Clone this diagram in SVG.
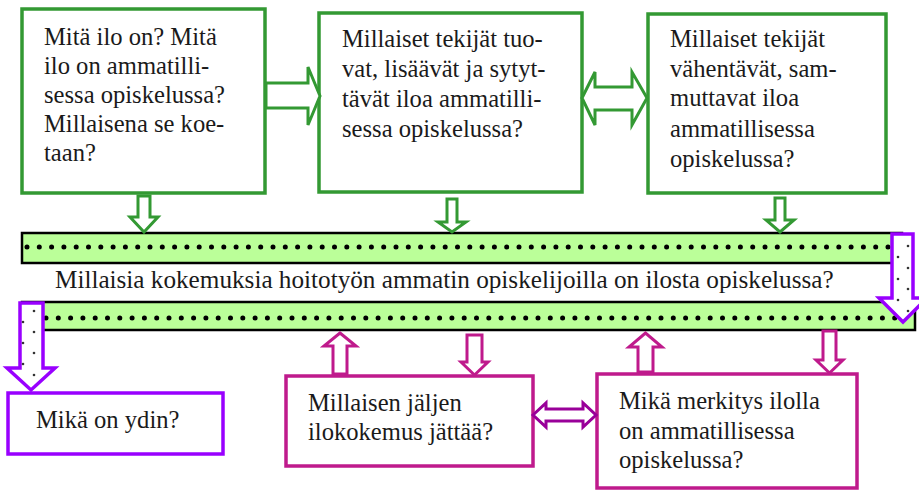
<svg xmlns="http://www.w3.org/2000/svg" width="919" height="491" viewBox="0 0 919 491">
<style>
text{font-family:'Liberation Serif','Times New Roman',serif;font-size:24.6px;fill:#1a1a1a}
.g{fill:#fff;stroke:#339933;stroke-width:3.5}
.ga{fill:#fff;stroke:#339933;stroke-width:3}
.p{fill:#fff;stroke:#9900ff;stroke-width:3.5}
.m{fill:#fff;stroke:#bf1a8c;stroke-width:3.5}
.ma{fill:#fff;stroke:#bf1a8c;stroke-width:3}
.band{fill:#bbff99;stroke:#000;stroke-width:2.5}
.dots{fill:none;stroke:#000;stroke-width:5;stroke-linecap:round;stroke-dasharray:0 12.3}
.sd{fill:#333}
</style>
<g id="bands">
<rect class="band" x="22" y="233" width="880" height="30"/>
<line class="dots" x1="27" y1="247" x2="890" y2="247"/>
<rect class="band" x="22" y="302" width="893" height="28"/>
<line class="dots" x1="46" y1="318" x2="900" y2="318"/>
<text x="55" y="288" style="font-size:25.2px">Millaisia kokemuksia hoitotyön ammatin opiskelijoilla on ilosta opiskelussa?</text>
</g>
<g id="box1">
<rect class="g" x="22" y="9" width="243" height="184"/>
<text x="44" y="45">Mitä ilo on? Mitä</text>
<text x="44" y="74">ilo on ammatilli-</text>
<text x="44" y="103">sessa opiskelussa?</text>
<text x="44" y="132">Millaisena se koe-</text>
<text x="44" y="161">taan?</text>
</g>
<g id="box2">
<rect class="g" x="319" y="13" width="263" height="179"/>
<text x="342" y="47">Millaiset tekijät tuo-</text>
<text x="342" y="77">vat, lisäävät ja sytyt-</text>
<text x="342" y="107">tävät iloa ammatilli-</text>
<text x="342" y="137">sessa opiskelussa?</text>
</g>
<g id="box3">
<rect class="g" x="648" y="14" width="238" height="179"/>
<text x="670" y="47">Millaiset tekijät</text>
<text x="670" y="77">vähentävät, sam-</text>
<text x="670" y="106">muttavat iloa</text>
<text x="670" y="137">ammatillisessa</text>
<text x="670" y="167">opiskelussa?</text>
</g>
<g id="core">
<rect class="p" x="8" y="393" width="215" height="61"/>
<text x="36" y="428">Mikä on ydin?</text>
</g>
<g id="trace">
<rect class="m" x="286" y="376" width="247" height="90"/>
<text x="308" y="411">Millaisen jäljen</text>
<text x="308" y="440">ilokokemus jättää?</text>
</g>
<g id="meaning">
<rect class="m" x="597" y="374" width="260" height="114"/>
<text x="619" y="409">Mikä merkitys ilolla</text>
<text x="619" y="439">on ammatillisessa</text>
<text x="619" y="468">opiskelussa?</text>
</g>
<g id="connectors">
<path class="ga" d="M266,83 H308 V67 L320,96 L308,125 V108 H266 Z"/>
<path class="ga" d="M582,98 L595,72 V87 H632 V72 L647,98 L632,125 V110 H595 V125 Z"/>
<path class="ga" d="M138,196 H150 V217 H158 L144,232 L130,217 H138 Z"/>
<path class="ga" d="M447,199 H457 V222 H466 L452,232 L438,222 H447 Z"/>
<path class="ga" d="M775,198 H785 V220 H794 L780,232 L766,220 H775 Z"/>
<path class="p" d="M892,234 H913 V298 H927 L903,322 L879,298 H892 Z"/>
<g class="sd"><circle cx="908" cy="246" r="1.3"/><circle cx="898" cy="257" r="1.3"/><circle cx="908" cy="268" r="1.3"/><circle cx="898" cy="279" r="1.3"/><circle cx="908" cy="289" r="1.3"/><circle cx="898" cy="300" r="1.3"/><circle cx="908" cy="311" r="1.3"/></g>
<path class="p" d="M20,303 H43 V368 H55 L31,390 L7,368 H20 Z"/>
<g class="sd"><circle cx="34" cy="311" r="1.3"/><circle cx="23" cy="322" r="1.3"/><circle cx="34" cy="332" r="1.3"/><circle cx="23" cy="343" r="1.3"/><circle cx="34" cy="353" r="1.3"/><circle cx="23" cy="364" r="1.3"/><circle cx="34" cy="375" r="1.3"/></g>
<path class="ma" d="M333,374 V346 H324 L340,333 L356,346 H347 V374 Z"/>
<path class="ma" d="M467,335 H482 V362 H488 L474.5,375 L461,362 H467 Z"/>
<path class="ma" d="M638,372 V347 H629 L645.5,333 L662,347 H653 V372 Z"/>
<path class="ma" d="M823,331 H836 V360 H843 L829.5,373 L816,360 H823 Z"/>
<path fill="#fff" stroke="#990099" stroke-width="3" d="M533,415 L546,403 V409 H583 V403 L596,415 L583,427 V421 H546 V427 Z"/>
</g>
</svg>
